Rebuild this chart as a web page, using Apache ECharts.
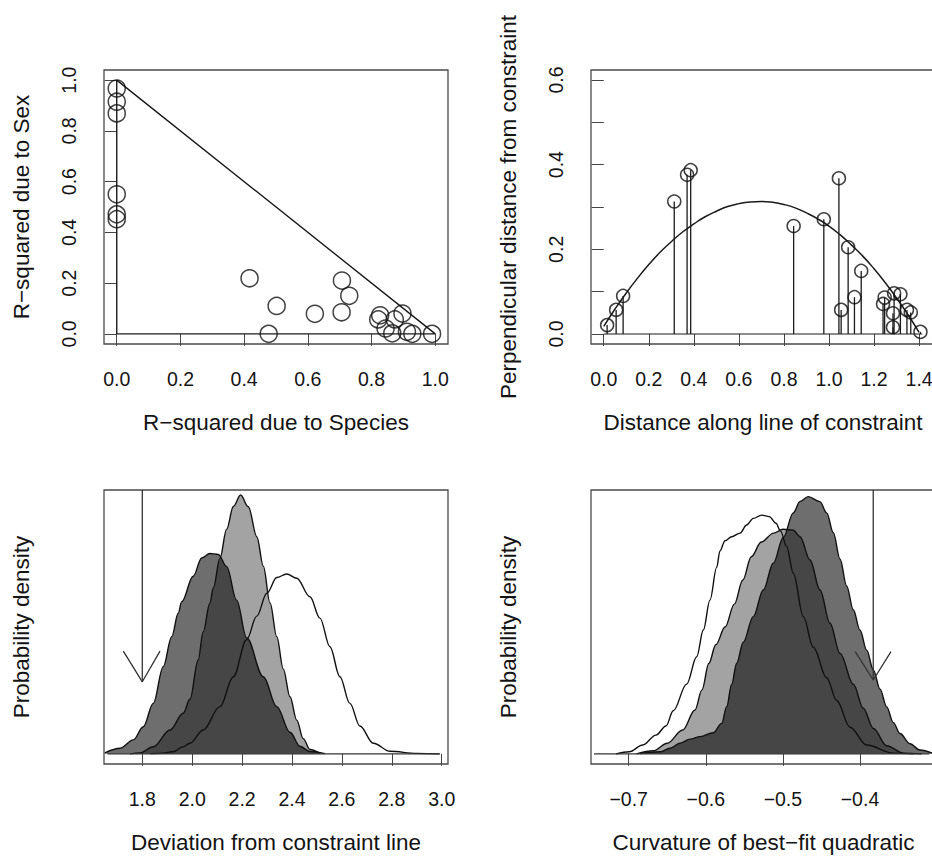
<!DOCTYPE html>
<html>
<head>
<meta charset="utf-8">
<script src="https://cdn.jsdelivr.net/npm/echarts@6/dist/echarts.min.js"></script>
<style>
html,body{margin:0;padding:0;background:#fff;}
#chart{width:932px;height:857px;}
</style>
</head>
<body>
<div id="chart"></div>
<script>
// ---------- Panel A: R-squared scatter ----------
const speciesR2 = [0,0,0,0,0,0, 0.417,0.502,0.477,0.622,0.707,0.730,0.706, 0.821,0.827,0.844,0.865,0.873,0.897,0.911,0.928,0.990];
const sexR2     = [0.967,0.915,0.869,0.550,0.471,0.452, 0.219,0.110,0.000,0.079,0.210,0.150,0.085, 0.057,0.073,0.021,0.002,0.057,0.080,0.008,0.000,0.000];
const constraintTriangle = [[0,1],[0,0],[1,0],[0,1]];
const ticksA = [0,0.2,0.4,0.6,0.8,1.0];
const labelsA = ['0.0','0.2','0.4','0.6','0.8','1.0'];

// ---------- Panel B: distances along / from constraint ----------
const alongDist = [0.015,0.055,0.086,0.313,0.370,0.386,0.843,0.977,1.044,1.054,1.085,1.113,1.143,1.247,1.240,1.289,1.317,1.284,1.284,1.346,1.363,1.406];
const perpDist  = [0.021,0.057,0.090,0.313,0.376,0.387,0.255,0.271,0.368,0.057,0.205,0.087,0.149,0.086,0.071,0.096,0.094,0.049,0.016,0.057,0.051,0.005];
const fitX = [0.00,0.05,0.10,0.15,0.20,0.25,0.30,0.35,0.40,0.45,0.50,0.55,0.60,0.65,0.70,0.75,0.80,0.85,0.90,0.95,1.00,1.05,1.10,1.15,1.20,1.25,1.30,1.35,1.40];
const fitY = [0.018,0.059,0.097,0.132,0.164,0.193,0.218,0.241,0.260,0.277,0.290,0.301,0.308,0.312,0.313,0.311,0.306,0.298,0.286,0.272,0.255,0.234,0.210,0.184,0.154,0.121,0.085,0.046,0.004];
const baselineB = [[0,0],[1.414,0]];
const ticksBx = [0,0.2,0.4,0.6,0.8,1.0,1.2,1.4];
const labelsBx = ['0.0','0.2','0.4','0.6','0.8','1.0','1.2','1.4'];
const ticksBy = [0,0.1,0.2,0.3,0.4,0.5,0.6];
const labelsBy = ['0.0','','0.2','','0.4','','0.6'];

// ---------- Panel C: deviation from constraint line (densities) ----------
const devDarkX  = [1.650,1.711,1.764,1.804,1.844,1.884,1.918,1.944,1.958,2.004,2.038,2.071,2.105,2.138,2.178,2.218,2.285,2.339,2.392,2.432,2.472,2.532];
const devDarkY  = [0.004,0.022,0.055,0.107,0.199,0.344,0.462,0.554,0.600,0.700,0.772,0.790,0.786,0.738,0.606,0.458,0.304,0.186,0.085,0.030,0.009,0.001];
const devLightX = [1.751,1.791,1.844,1.911,1.964,1.991,2.024,2.044,2.071,2.085,2.111,2.138,2.165,2.194,2.225,2.259,2.285,2.312,2.339,2.365,2.392,2.419,2.445,2.472,2.512];
const devLightY = [0.000,0.004,0.028,0.094,0.160,0.215,0.370,0.480,0.595,0.655,0.770,0.885,0.975,1.020,0.974,0.856,0.740,0.595,0.462,0.335,0.225,0.133,0.060,0.017,0.002];
const devWhiteX = [1.831,1.871,1.924,1.964,1.991,2.044,2.111,2.165,2.218,2.259,2.299,2.339,2.379,2.419,2.472,2.512,2.552,2.592,2.632,2.672,2.726,2.793,2.900,2.993];
const devWhiteY = [0.001,0.002,0.008,0.028,0.042,0.094,0.186,0.304,0.450,0.543,0.633,0.695,0.709,0.692,0.619,0.535,0.422,0.304,0.199,0.110,0.042,0.010,0.002,0.000];
const devArrowShaft = [[1.8,1.04],[1.8,0.284]];
const devArrowHead = [[1.724,0.405],[1.8,0.284],[1.871,0.405]];
const devBaseline = [[1.66,0],[2.99,0]];
const ticksC = [1.8,2.0,2.2,2.4,2.6,2.8,3.0];
const labelsC = ['1.8','2.0','2.2','2.4','2.6','2.8','3.0'];

// ---------- Panel D: curvature of best-fit quadratic (densities) ----------
const curvWhiteX = [-0.7165,-0.6992,-0.6818,-0.6646,-0.6516,-0.6422,-0.6248,-0.6118,-0.6032,-0.5946,-0.5859,-0.5816,-0.5751,-0.5664,-0.5556,-0.5470,-0.5384,-0.5275,-0.5176,-0.5090,-0.5030,-0.4951,-0.4865,-0.4735,-0.4606,-0.4432,-0.4302,-0.4130,-0.3913,-0.3568,-0.3300];
const curvWhiteY = [0.000,0.008,0.035,0.074,0.110,0.170,0.275,0.383,0.488,0.606,0.735,0.800,0.840,0.856,0.870,0.902,0.928,0.941,0.935,0.909,0.878,0.817,0.712,0.541,0.420,0.300,0.210,0.105,0.035,0.003,0.000];
const curvLightX = [-0.690,-0.668,-0.650,-0.630,-0.614,-0.605,-0.596,-0.587,-0.575,-0.563,-0.552,-0.541,-0.528,-0.512,-0.500,-0.4865,-0.4778,-0.4648,-0.4519,-0.4389,-0.4259,-0.4087,-0.3957,-0.3827,-0.3654,-0.3438,-0.320];
const curvLightY = [0.000,0.012,0.042,0.094,0.173,0.252,0.357,0.430,0.500,0.590,0.685,0.777,0.835,0.870,0.885,0.882,0.856,0.764,0.646,0.515,0.396,0.275,0.180,0.100,0.032,0.003,0.000];
const curvDarkX  = [-0.6853,-0.6594,-0.6464,-0.6334,-0.6204,-0.6075,-0.5903,-0.5794,-0.5729,-0.5664,-0.5599,-0.5514,-0.5384,-0.5254,-0.5125,-0.4995,-0.4865,-0.4778,-0.4671,-0.4519,-0.4432,-0.4346,-0.4259,-0.4173,-0.4087,-0.4000,-0.3913,-0.3827,-0.3740,-0.3654,-0.3568,-0.3481,-0.3352,-0.3222,-0.3066];
const curvDarkY  = [0.001,0.008,0.022,0.042,0.058,0.068,0.083,0.120,0.186,0.275,0.357,0.440,0.541,0.646,0.751,0.853,0.950,0.995,1.014,0.994,0.950,0.872,0.768,0.662,0.568,0.488,0.409,0.331,0.255,0.185,0.123,0.080,0.040,0.015,0.003];
const curvArrowShaft = [[-0.3828,1.04],[-0.3828,0.291]];
const curvArrowHead = [[-0.4062,0.403],[-0.3828,0.291],[-0.3598,0.403]];
const curvBaseline = [[-0.745,0],[-0.31,0]];
const ticksD = [-0.7,-0.6,-0.5,-0.4];
const labelsD = ['\u22120.7','\u22120.6','\u22120.5','\u22120.4'];

// ---------- helpers ----------
const FONT = "'Liberation Sans', Arial, Helvetica, sans-serif";
const TXT = '#141414';
const zip = (xs, ys) => xs.map((x, i) => [x, ys[i]]);
const fmt = (ticks, labels) => (v) => {
  const i = ticks.findIndex(t => Math.abs(t - v) < 1e-6);
  return i >= 0 ? labels[i] : '';
};
function xAx(gi, min, max, ticks, labels, name) {
  return {
    type: 'value', gridIndex: gi, min, max, name, nameLocation: 'middle', nameGap: 67,
    nameTextStyle: { fontSize: 22.5, color: TXT, fontFamily: FONT },
    axisLine: { show: false },
    axisTick: { show: true, length: 12, customValues: ticks, lineStyle: { color: '#444', width: 1 } },
    axisLabel: { show: true, customValues: ticks, formatter: fmt(ticks, labels), margin: 25,
      fontSize: 19.5, color: TXT, fontFamily: FONT, hideOverlap: false },
    splitLine: { show: false }
  };
}
function yAx(gi, min, max, ticks, labels, name) {
  const ax = {
    type: 'value', gridIndex: gi, min, max, name, nameLocation: 'middle', nameGap: 71,
    nameTextStyle: { fontSize: 22.5, color: TXT, fontFamily: FONT },
    axisLine: { show: false },
    splitLine: { show: false }
  };
  if (ticks) {
    ax.axisTick = { show: true, length: 12, customValues: ticks, lineStyle: { color: '#444', width: 1 } };
    ax.axisLabel = { show: true, customValues: ticks, formatter: fmt(ticks, labels), rotate: 90, margin: 25,
      fontSize: 19.5, color: TXT, fontFamily: FONT, hideOverlap: false };
  } else {
    ax.axisTick = { show: false };
    ax.axisLabel = { show: false };
  }
  return ax;
}
const gridBase = { show: true, borderColor: '#4a4a4a', borderWidth: 1.3, backgroundColor: 'transparent',
  containLabel: false, outerBoundsMode: 'none' };
function plainLine(ai, data, color, width, smooth) {
  return { type: 'line', xAxisIndex: ai, yAxisIndex: ai, data, symbol: 'none', silent: true,
    smooth: smooth || false,
    lineStyle: { color: color, width: width }, z: 5 };
}
function fillArea(ai, data, color) {
  return { type: 'line', xAxisIndex: ai, yAxisIndex: ai, data, symbol: 'none', silent: true,
    smooth: 0.35, smoothMonotone: 'x',
    lineStyle: { width: 0, opacity: 0 }, areaStyle: { color: color, opacity: 1 }, z: 2 };
}
function outline(ai, data) {
  return { type: 'line', xAxisIndex: ai, yAxisIndex: ai, data, symbol: 'none', silent: true,
    smooth: 0.35, smoothMonotone: 'x',
    lineStyle: { color: '#111', width: 1.4 }, z: 4 };
}
const openCircles = (ai, data, size) => ({
  type: 'scatter', xAxisIndex: ai, yAxisIndex: ai, data, symbol: 'circle', symbolSize: size, silent: true,
  itemStyle: { color: 'rgba(0,0,0,0)', borderColor: '#111', borderWidth: 1.5 }, z: 6
});

const chart = echarts.init(document.getElementById('chart'), null, { renderer: 'svg' });
const option = {
  backgroundColor: '#ffffff',
  animation: false,
  grid: [
    Object.assign({ left: 104, top: 70, width: 344, height: 274 }, gridBase),
    Object.assign({ left: 591, top: 70, width: 344, height: 274 }, gridBase),
    Object.assign({ left: 104, top: 490, width: 344, height: 274 }, gridBase),
    Object.assign({ left: 591, top: 490, width: 345, height: 274 }, gridBase)
  ],
  xAxis: [
    xAx(0, -0.04, 1.04, ticksA, labelsA, 'R\u2212squared due to Species'),
    xAx(1, -0.0566, 1.4706, ticksBx, labelsBx, 'Distance along line of constraint'),
    xAx(2, 1.6465, 3.0253, ticksC, labelsC, 'Deviation from constraint line'),
    xAx(3, -0.7489, -0.3014, ticksD, labelsD, 'Curvature of best\u2212fit quadratic')
  ],
  yAxis: [
    yAx(0, -0.04, 1.04, ticksA, labelsA, 'R\u2212squared due to Sex'),
    yAx(1, -0.0236, 0.6236, ticksBy, labelsBy, 'Perpendicular distance from constraint'),
    yAx(2, -0.04, 1.04, null, null, 'Probability density'),
    yAx(3, -0.04, 1.04, null, null, 'Probability density')
  ],
  series: [
    // Panel A
    plainLine(0, constraintTriangle, '#1a1a1a', 1.4),
    openCircles(0, zip(speciesR2, sexR2), 17),
    // Panel B
    plainLine(1, baselineB, '#1a1a1a', 1.2),
    {
      type: 'custom', xAxisIndex: 1, yAxisIndex: 1, data: zip(alongDist, perpDist), silent: true, z: 3,
      renderItem: (params, api) => {
        const p0 = api.coord([api.value(0), 0]);
        const p1 = api.coord([api.value(0), api.value(1)]);
        return { type: 'line', shape: { x1: p0[0], y1: p0[1], x2: p1[0], y2: p1[1] },
          style: { stroke: '#1a1a1a', lineWidth: 1.3 } };
      }
    },
    plainLine(1, zip(fitX, fitY), '#1a1a1a', 1.5, true),
    openCircles(1, zip(alongDist, perpDist), 13),
    // Panel C
    fillArea(2, zip(devDarkX, devDarkY), 'rgba(0,0,0,0.57)'),
    fillArea(2, zip(devLightX, devLightY), 'rgba(0,0,0,0.36)'),
    outline(2, zip(devWhiteX, devWhiteY)),
    outline(2, zip(devDarkX, devDarkY)),
    outline(2, zip(devLightX, devLightY)),
    plainLine(2, devBaseline, '#333', 1.2),
    plainLine(2, devArrowShaft, '#333', 1.3),
    plainLine(2, devArrowHead, '#333', 1.3),
    // Panel D
    fillArea(3, zip(curvLightX, curvLightY), 'rgba(0,0,0,0.36)'),
    fillArea(3, zip(curvDarkX, curvDarkY), 'rgba(0,0,0,0.57)'),
    outline(3, zip(curvWhiteX, curvWhiteY)),
    outline(3, zip(curvLightX, curvLightY)),
    outline(3, zip(curvDarkX, curvDarkY)),
    plainLine(3, curvBaseline, '#333', 1.2),
    plainLine(3, curvArrowShaft, '#333', 1.3),
    plainLine(3, curvArrowHead, '#333', 1.3)
  ]
};
chart.setOption(option);
</script>
</body>
</html>
